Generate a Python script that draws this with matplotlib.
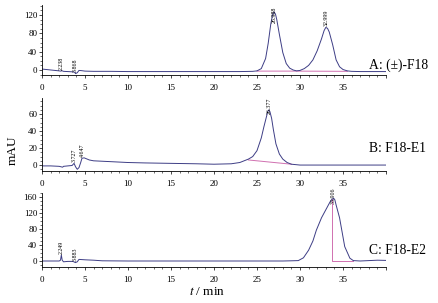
import matplotlib
matplotlib.use('Agg')
import matplotlib.pyplot as plt
from matplotlib.ticker import MultipleLocator

plt.rcParams['font.family'] = ['Liberation Serif', 'DejaVu Serif']
plt.rcParams['mathtext.fontset'] = 'stix'

# 色谱数据
tA = [0, 0.5, 1, 1.5, 2, 2.2, 2.3, 2.5, 3, 3.5, 3.8, 3.9, 4.1, 4.3, 4.6, 5, 6, 8, 10, 13, 16, 20, 23,
      24.5, 25, 25.5, 26, 26.3, 26.6, 26.8, 26.988, 27.15, 27.3, 27.6, 28, 28.4, 28.8, 29.2, 29.6, 30, 30.5, 31,
      31.5, 32, 32.5, 32.8, 32.999, 33.2, 33.4, 33.8, 34.2, 34.6, 35, 35.5, 36, 37, 38, 40]
yA = [2, 1, 0, -1, -2, -2.5, -1.5, -3, -3.5, -4, -5, -8, -6, -1, -1.5, -2.5, -3, -3, -3.5, -3.5, -3.5, -3.5, -3.5,
      -3, -2, 3, 25, 58, 100, 120, 127, 122, 110, 78, 38, 14, 4, 0, -2, -1, 3, 10,
      22, 42, 68, 86, 93, 91, 83, 55, 22, 7, 1, -2, -3, -3.5, -3.5, -3.5]

tB = [0, 1, 2, 2.4, 2.5, 3, 3.5, 3.727, 3.9, 4.1, 4.3, 4.5, 4.647, 4.9, 5.5, 6, 8, 10, 12, 15, 18, 20, 22,
      23, 24, 24.5, 25, 25.5, 25.8, 26.1, 26.25, 26.377, 26.5, 26.7, 26.9, 27.2, 27.6, 28, 28.5, 29, 30, 32, 35, 38, 40]
yB = [-1, -1, -1.5, -2.5, -1.5, -1, -0.5, 2, -2, -5, -3, 3, 8, 8.5, 6, 5, 4, 3, 2.5, 2, 1.5, 1, 1.5,
      3, 7, 10, 17, 32, 45, 57, 63, 65, 63, 55, 42, 25, 13, 7, 3, 1, 0, 0, 0, 0, 0]

tC = [0, 1, 2, 2.15, 2.249, 2.35, 2.5, 3, 3.6, 3.883, 4.1, 4.3, 5, 6, 7, 10, 15, 20, 25, 28, 29, 29.8,
      30.4, 31, 31.5, 31.9, 32.5, 33.1, 33.5, 33.7, 33.906, 34.05, 34.2, 34.6, 35.2, 35.8, 36.2, 37, 38, 39, 40]
yC = [0, 0, 0, 2, 15, 2, -2, -1, -1, -4, -2, 4, 3, 2, 0.5, 0, 0, 0, 0, 0, 0.5, 1,
      8, 27, 50, 77, 108, 132, 148, 154, 157, 153, 140, 108, 36, 7, 1, 0, 1, 2, 1.5]

# 积分基线
baseA_t = [25, 29.5, 35.5]
baseA_y = [-2.5, -2.5, -3]
baseB_t = [24, 29]
baseB_y = [6, 1]
baseC_t = [33.7, 33.7, 36.2]
baseC_y = [154, 0, 0]

peaksA = [2.238, 3.868, 26.988, 32.999]
peaksA_lab = ['2.238', '3.868', '26.988', '32.999']
peaksB = [3.727, 4.647, 26.377]
peaksB_lab = ['3.727', '4.647', '26.377']
peaksC = [2.249, 3.883, 33.906]
peaksC_lab = ['2.249', '3.883', '33.906']

names = ['A: (\u00b1)-F18', 'B: F18-E1', 'C: F18-E2']

W, H = 439, 303
fig = plt.figure(figsize=(W / 100, H / 100), dpi=100)

line_c = '#3d3d85'
base_c = '#d070b0'


def panel(top, bottom, ylim, major, minor, t, y, bt, by, pk, pklab, offs, name, name_y):
    ax = fig.add_axes([42 / W, 1 - bottom / H, 344 / W, (bottom - top) / H])
    ax.plot(bt, by, color=base_c, lw=0.7)
    ax.plot(t, y, color=line_c, lw=0.7)
    ax.set_xlim(0, 40)
    ax.set_ylim(*ylim)
    ax.spines['top'].set_visible(False)
    ax.spines['right'].set_visible(False)
    for s in ['left', 'bottom']:
        ax.spines[s].set_linewidth(0.6)
    ax.xaxis.set_minor_locator(MultipleLocator(1))
    ax.yaxis.set_major_locator(MultipleLocator(major))
    ax.yaxis.set_minor_locator(MultipleLocator(minor))
    ax.set_xticks([0, 5, 10, 15, 20, 25, 30, 35, 40])
    ax.set_xticklabels(['0', '5', '10', '15', '20', '25', '30', '35', ''])
    ax.tick_params(which='major', length=2.5, width=0.5, labelsize=6.5)
    ax.tick_params(which='minor', length=1.3, width=0.4)
    ax.tick_params(axis='x', pad=4)
    ax.tick_params(axis='y', pad=1)
    # 峰标注
    for p, lab, o in zip(pk, pklab, offs):
        i = min(range(len(t)), key=lambda k: abs(t[k] - p))
        ax.annotate(lab, (p, y[i]), xytext=(0, o), textcoords='offset points',
                    rotation=90, fontsize=4.3, ha='center', va='bottom',
                    annotation_clip=False)
    fig.text(369 / W, 1 - name_y / H, name, fontsize=9.8, ha='left', va='center')
    return ax


panel(5, 75, (-11, 142), 40, 10, tA, yA, baseA_t, baseA_y, peaksA, peaksA_lab, [1, 1, -8, 1], names[0], 65)
panel(98, 171, (-7, 79), 20, 5, tB, yB, baseB_t, baseB_y, peaksB, peaksB_lab, [1, 1, -3], names[1], 148)
panel(193, 267, (-15, 170), 40, 10, tC, yC, baseC_t, baseC_y, peaksC, peaksC_lab, [1, 1, -4], names[2], 250)

fig.text(13 / W, 1 - 150 / H, 'mAU', rotation=90, fontsize=9.5, ha='center', va='center')
fig.text(207 / W, 1 - 292 / H, '$t$ / min', fontsize=9.5, ha='center', va='center')

fig.savefig('out.png', dpi=100)
